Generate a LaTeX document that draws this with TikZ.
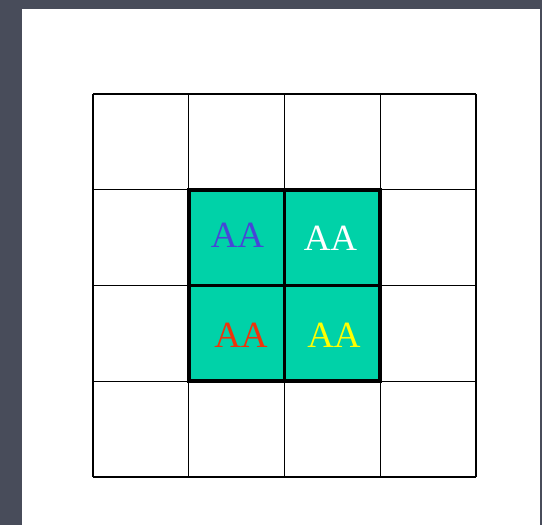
\documentclass[tikz,border=0pt]{standalone}
\usepackage{fontspec}
\setmainfont{Liberation Serif}
\usetikzlibrary{positioning}

\definecolor{slate}{RGB}{72,76,90}
\definecolor{tealfill}{RGB}{0,210,168}
\definecolor{letterblue}{RGB}{70,70,215}
\definecolor{letterred}{RGB}{240,50,10}
\definecolor{letteryellow}{RGB}{255,255,0}

\begin{document}
\begin{tikzpicture}[
    x=1pt, y=1pt,
    gridline/.style={draw=black, line width=1.1pt},
    boldline/.style={draw=black, line width=3.6pt, line cap=rect},
    letters/.style={inner sep=0pt, font=\fontsize{37}{40}\selectfont}
]
    \useasboundingbox (0,0) rectangle (542,525);
    % page
    \fill[slate] (0,0) rectangle (542,525);
    \fill[white] (22,0) rectangle (540,516);

    % centre block
    \fill[tealfill] (188.75,143.75) rectangle (380.25,335.25);

    % 4x4 grid
    \foreach \i in {0,...,4} {
        \draw[gridline] ({93+95.75*\i},48) -- ({93+95.75*\i},431);
        \draw[gridline] (93,{48+95.75*\i}) -- (476,{48+95.75*\i});
    }

    % bold 2x2 frame
    \draw[boldline] (188.75,143.75) rectangle (380.25,335.25);
    \draw[boldline] (284.5,143.75) -- (284.5,335.25);
    \draw[boldline] (188.75,239.5) -- (380.25,239.5);

    % letters
    \node[letters, text=letterblue]   (tl) at (237.5,289.5) {AA};
    \node[letters, text=white]        (tr) at (330.5,286.5) {AA};
    \node[letters, text=letterred]    (bl) at (241,190)     {AA};
    \node[letters, text=letteryellow] (br) at (334,190)     {AA};
\end{tikzpicture}
\end{document}
